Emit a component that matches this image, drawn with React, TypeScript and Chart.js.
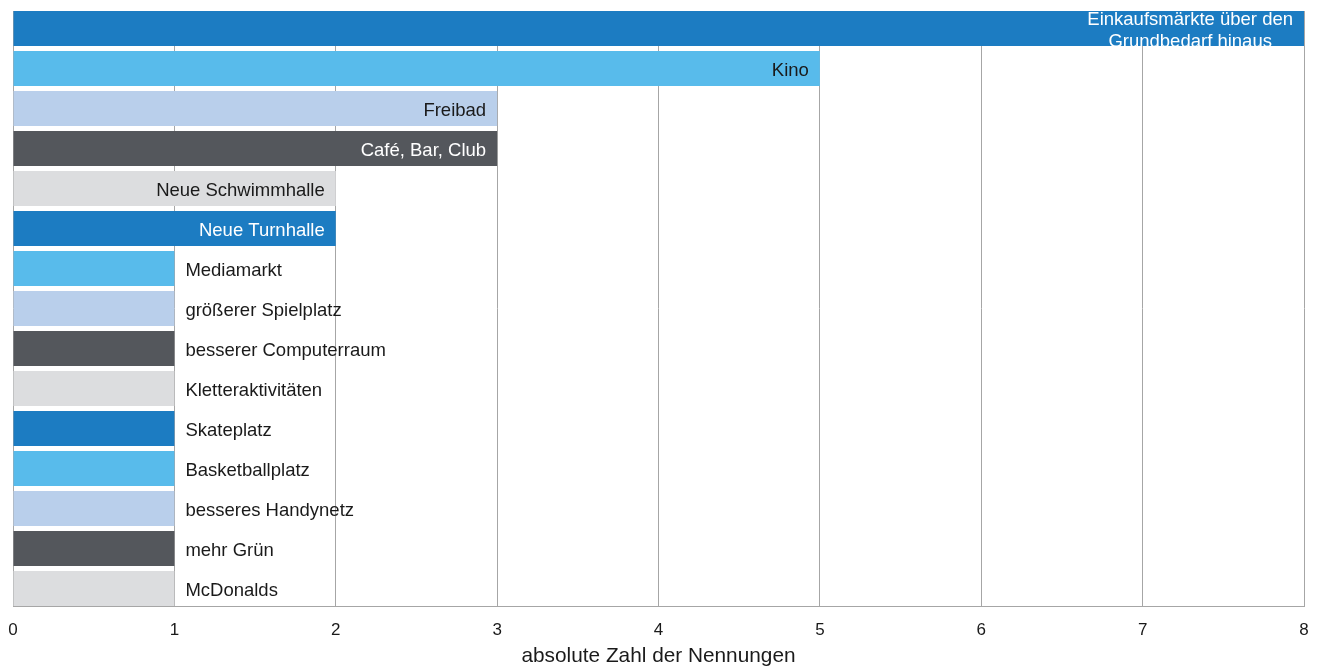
import React, { useEffect, useRef } from "react";
import { Chart, registerables } from "chart.js";

Chart.register(...registerables);

const categories: (string | string[])[] = [
  ["Einkaufsmärkte über den", "Grundbedarf hinaus"],
  "Kino",
  "Freibad",
  "Café, Bar, Club",
  "Neue Schwimmhalle",
  "Neue Turnhalle",
  "Mediamarkt",
  "größerer Spielplatz",
  "besserer Computerraum",
  "Kletteraktivitäten",
  "Skateplatz",
  "Basketballplatz",
  "besseres Handynetz",
  "mehr Grün",
  "McDonalds",
];
const counts = [8, 5, 3, 3, 2, 2, 1, 1, 1, 1, 1, 1, 1, 1, 1];
const xTicks = [0, 1, 2, 3, 4, 5, 6, 7, 8];
const axisTitle = "absolute Zahl der Nennungen";

const palette = ["#1c7cc2", "#58bbeb", "#b9cfeb", "#54575c", "#dcdddf"];
const labelColors = ["#ffffff", "#1a1a1a", "#1a1a1a", "#ffffff", "#1a1a1a"];

const FONT = '"Liberation Sans", Arial, Helvetica, sans-serif';
const BAR_FRACTION = 0.875;

const barLabels = {
  id: "barLabels",
  afterDatasetsDraw(chart: any) {
    const ctx = chart.ctx as CanvasRenderingContext2D;
    const meta = chart.getDatasetMeta(0);
    meta.data.forEach((bar: any, i: number) => {
      const { x, y, base, height } = bar.getProps(["x", "y", "base", "height"], true);
      const lab = categories[i];
      const lines = Array.isArray(lab) ? lab : [lab];
      const inside = counts[i] >= 2;
      const lh = 21.6;
      ctx.save();
      ctx.font = "18.5px " + FONT;
      ctx.textBaseline = "middle";
      const y0 = y + 2.4 - ((lines.length - 1) * lh) / 2;
      if (inside) {
        ctx.beginPath();
        ctx.rect(base, y - height / 2, x - base, height);
        ctx.clip();
        ctx.fillStyle = labelColors[i % labelColors.length];
        const maxW = Math.max(...lines.map((l) => ctx.measureText(l).width));
        const cx = x - 11 - maxW / 2;
        ctx.textAlign = "center";
        lines.forEach((l, k) => ctx.fillText(l, cx, y0 + k * lh));
      } else {
        ctx.fillStyle = "#1a1a1a";
        ctx.textAlign = "left";
        lines.forEach((l, k) => ctx.fillText(l, x + 11, y0 + k * lh));
      }
      ctx.restore();
    });
  },
};

export default function App() {
  const ref = useRef<HTMLCanvasElement>(null);
  useEffect(() => {
    if (!ref.current) return;
    const half = BAR_FRACTION / 2;
    const chart = new Chart(ref.current, {
      type: "bar",
      data: {
        datasets: [
          {
            data: counts.map((v, i) => ({ x: v, y: i })),
            backgroundColor: counts.map((_, i) => palette[i % palette.length]),
            borderWidth: 0,
            barPercentage: BAR_FRACTION,
            categoryPercentage: 1,
          },
        ],
      },
      options: {
        indexAxis: "y",
        animation: false,
        responsive: true,
        maintainAspectRatio: false,
        layout: { padding: { left: 13, right: 21, top: 11, bottom: 0 } },
        plugins: {
          legend: { display: false },
          tooltip: { enabled: false },
        },
        scales: {
          y: {
            type: "linear",
            display: false,
            reverse: true,
            offset: false,
            grid: { offset: false },
            min: -half,
            max: counts.length - 1 + half,
            afterBuildTicks: (axis: any) => {
              axis.ticks = counts.map((_, i) => ({ value: i }));
            },
          },
          x: {
            type: "linear",
            min: xTicks[0],
            max: xTicks[xTicks.length - 1],
            afterBuildTicks: (axis: any) => {
              axis.ticks = xTicks.map((v) => ({ value: v }));
            },
            afterFit: (scale: any) => {
              scale.height = 60;
              scale.paddingLeft = 0;
              scale.paddingRight = 0;
            },
            ticks: {
              font: { family: FONT, size: 17 },
              color: "#1a1a1a",
              padding: 14,
              maxRotation: 0,
            },
            grid: {
              color: "#a6a6a6",
              lineWidth: 1,
              drawTicks: false,
            },
            border: { display: true, color: "#a6a6a6" },
            title: {
              display: true,
              text: axisTitle,
              font: { family: FONT, size: 20.8 },
              color: "#1a1a1a",
              padding: { top: 0, bottom: -3 },
            },
          },
        },
      },
      plugins: [barLabels],
    });
    return () => chart.destroy();
  }, []);
  return (
    <div style={{ position: "absolute", left: 0, top: 0, width: 1325, height: 666 }}>
      <canvas ref={ref} />
    </div>
  );
}
